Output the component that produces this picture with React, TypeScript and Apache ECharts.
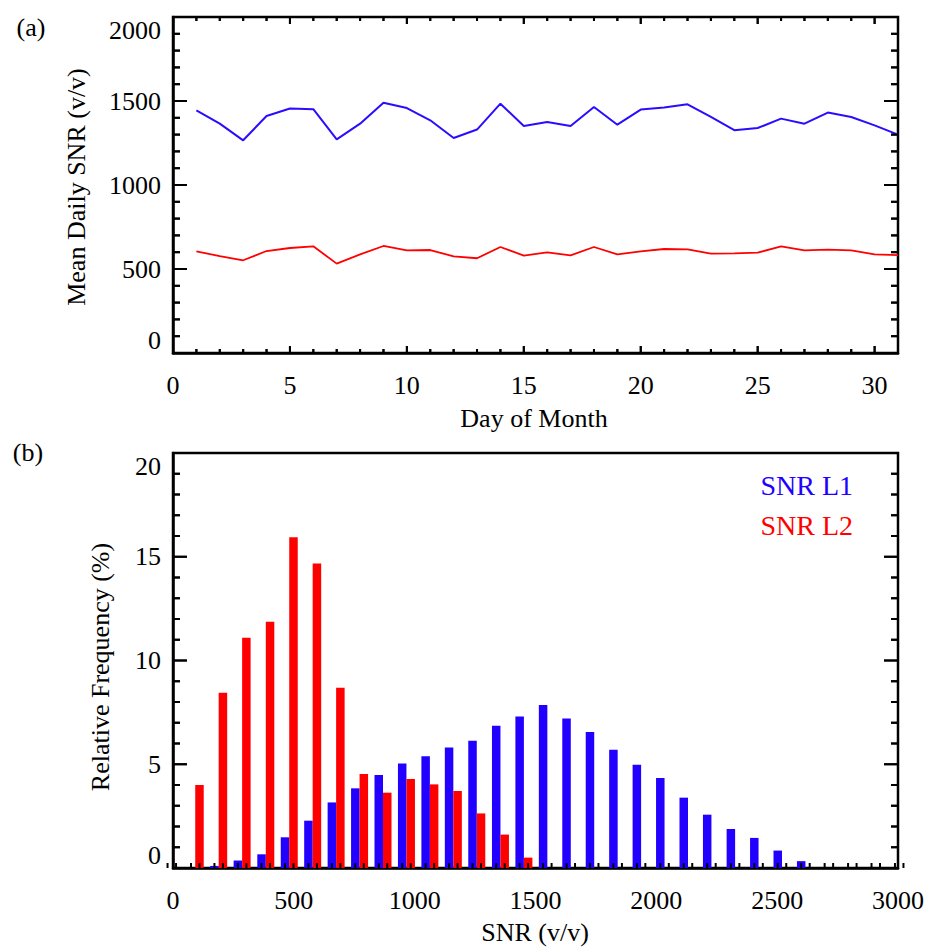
import React, { useEffect, useRef } from "react";
import * as echarts from "echarts";

// ---- Panel (a): mean daily SNR per day of month ----
const days = [1, 2, 3, 4, 5, 6, 7, 8, 9, 10, 11, 12, 13, 14, 15, 16, 17, 18, 19, 20, 21, 22, 23, 24, 25, 26, 27, 28, 29, 30, 31];
const snrL1 = [1444, 1365, 1266, 1411, 1455, 1451, 1272, 1365, 1490, 1458, 1385, 1280, 1330, 1484, 1351, 1375, 1351, 1464, 1359, 1449, 1461, 1480, 1405, 1326, 1339, 1395, 1365, 1431, 1405, 1355, 1300];
const snrL2 = [605, 577, 552, 607, 625, 635, 532, 587, 637, 611, 613, 575, 564, 631, 580, 599, 581, 631, 587, 605, 619, 617, 592, 593, 597, 635, 611, 615, 611, 587, 583];
// tick positions of panel (a) (major every 5 days / 500, minor every day / 100)
const dayTicks = [0, 1, 2, 3, 4, 5, 6, 7, 8, 9, 10, 11, 12, 13, 14, 15, 16, 17, 18, 19, 20, 21, 22, 23, 24, 25, 26, 27, 28, 29, 30];
const snrTicks = [0, 100, 200, 300, 400, 500, 600, 700, 800, 900, 1000, 1100, 1200, 1300, 1400, 1500, 1600, 1700, 1800, 1900, 2000];

// ---- Panel (b): histogram of SNR ----
const bins = [-5, 92, 189, 286, 384, 481, 578, 675, 772, 869, 966, 1063, 1160, 1257, 1355, 1452, 1549, 1646, 1743, 1840, 1937, 2034, 2131, 2228, 2326, 2423, 2520, 2617, 2714, 2811, 2908, 3005];
const freqL1 = [0, 0, 0.1, 0.36, 0.66, 1.48, 2.28, 3.16, 3.84, 4.48, 5.04, 5.38, 5.81, 6.13, 6.85, 7.3, 7.85, 7.2, 6.56, 5.7, 4.98, 4.34, 3.39, 2.57, 1.88, 1.45, 0.84, 0.33, 0, 0, 0, 0];
const freqL2 = [0, 4.0, 8.45, 11.1, 11.87, 15.94, 14.67, 8.69, 4.53, 3.63, 4.29, 4.03, 3.71, 2.63, 1.61, 0.5, 0, 0, 0, 0, 0, 0, 0, 0, 0, 0, 0, 0, 0, 0, 0, 0];
const freqTicks = [0, 1, 2, 3, 4, 5, 6, 7, 8, 9, 10, 11, 12, 13, 14, 15, 16, 17, 18, 19, 20];

const FONT = "Liberation Serif";
const BLUE_LINE = "#2a0dff";
const BLUE_BAR = "#2200ff";
const RED = "#ff0000";
const BAR_W = 8.5;

const labelStyle = { fontFamily: FONT, fontSize: 26, color: "#000" };
const axisLine = { show: true, lineStyle: { color: "#000", width: 2.5 } };

function yAxisCfg(gridIndex: number, max: number, interval: number) {
  return {
    type: "value",
    gridIndex,
    position: "left",
    min: 0,
    max,
    interval,
    axisLine,
    splitLine: { show: false },
    axisTick: { show: false },
    minorTick: { show: false },
    axisLabel: {
      margin: 12,
      ...labelStyle,
      formatter: (v: number) => String(v),
      verticalAlignMinLabel: "bottom",
      verticalAlignMaxLabel: "top",
    },
  };
}

// inward tick marks drawn as small rectangles anchored on the frame
const hTick = (x: number, y: number, len: number, dir: number) => ({
  value: [x, y],
  symbolSize: [len, 2],
  symbolOffset: [(dir * len) / 2, 0],
});
const vTick = (x: number, y: number, len: number, dir: number) => ({
  value: [x, y],
  symbolSize: [2, len],
  symbolOffset: [0, (dir * len) / 2],
});

const tickSeries = (name: string, xAxisIndex: number, yAxisIndex: number, data: any[]) => ({
  name,
  type: "scatter",
  xAxisIndex,
  yAxisIndex,
  symbol: "rect",
  silent: true,
  clip: false,
  z: 10,
  itemStyle: { color: "#000", opacity: 1 },
  emphasis: { disabled: true },
  data,
});

const textEls: any[] = [
  { type: "text", x: 31, y: 27, style: { text: "(a)", fontFamily: FONT, fontSize: 26, fill: "#000", align: "center", verticalAlign: "middle" } },
  { type: "text", x: 28, y: 452, style: { text: "(b)", fontFamily: FONT, fontSize: 26, fill: "#000", align: "center", verticalAlign: "middle" } },
  { type: "text", x: 76, y: 187, rotation: Math.PI / 2, style: { text: "Mean Daily SNR (v/v)", fontFamily: FONT, fontSize: 26, fill: "#000", align: "center", verticalAlign: "middle" } },
  { type: "text", x: 534, y: 418, style: { text: "Day of Month", fontFamily: FONT, fontSize: 26, fill: "#000", align: "center", verticalAlign: "middle" } },
  { type: "text", x: 100, y: 667, rotation: Math.PI / 2, style: { text: "Relative Frequency (%)", fontFamily: FONT, fontSize: 26, fill: "#000", align: "center", verticalAlign: "middle" } },
  { type: "text", x: 535, y: 932, style: { text: "SNR (v/v)", fontFamily: FONT, fontSize: 26, fill: "#000", align: "center", verticalAlign: "middle" } },
  { type: "text", x: 853, y: 485, style: { text: "SNR L1", fontFamily: FONT, fontSize: 28, fill: BLUE_BAR, align: "right", verticalAlign: "middle" } },
  { type: "text", x: 853, y: 525, style: { text: "SNR L2", fontFamily: FONT, fontSize: 28, fill: RED, align: "right", verticalAlign: "middle" } },
];

export default function App() {
  const ref = useRef<HTMLDivElement>(null);
  useEffect(() => {
    if (!ref.current) return;
    const chart = echarts.init(ref.current, undefined, { renderer: "svg" });

    const ticksA = [
      ...snrTicks.flatMap((v) => {
        const len = v % 500 === 0 ? 14 : 7;
        return [hTick(0, v, len, 1), hTick(31, v, len, -1)];
      }),
      ...dayTicks.flatMap((d) => {
        const len = d % 5 === 0 ? 7 : 4;
        return [vTick(d, 0, len, -1), vTick(d, 2000, len, 1)];
      }),
    ];
    const ticksB = freqTicks.flatMap((v) => {
      const len = v % 5 === 0 ? 14 : 7;
      return [hTick(0, v, len, 1), hTick(3000, v, len, -1)];
    });

    const option: any = {
      animation: false,
      backgroundColor: "#fff",
      grid: [
        { left: 173, top: 17, width: 725, height: 336, show: true, borderColor: "#000", borderWidth: 2.5, backgroundColor: "transparent" },
        { left: 173, top: 453, width: 725, height: 415, show: true, borderColor: "#000", borderWidth: 2.5, backgroundColor: "transparent" },
      ],
      xAxis: [
        {
          type: "value",
          gridIndex: 0,
          position: "bottom",
          min: 0,
          max: 31,
          interval: 5,
          axisLine,
          splitLine: { show: false },
          axisTick: { show: false },
          axisLabel: {
            margin: 19,
            ...labelStyle,
            formatter: (v: number) => (v % 5 === 0 ? String(v) : ""),
          },
        },
        {
          type: "value",
          gridIndex: 1,
          position: "bottom",
          min: 0,
          max: 3000,
          interval: 500,
          axisLine,
          splitLine: { show: false },
          axisTick: { show: false },
          axisLabel: { margin: 19, ...labelStyle, formatter: (v: number) => String(v) },
        },
      ],
      yAxis: [yAxisCfg(0, 2000, 500), yAxisCfg(1, 20, 5)],
      series: [
        {
          name: "SNR L1",
          type: "line",
          xAxisIndex: 0,
          yAxisIndex: 0,
          data: days.map((d, i) => [d, snrL1[i]]),
          symbol: "none",
          lineStyle: { color: BLUE_LINE, width: 2 },
          itemStyle: { color: BLUE_LINE },
        },
        {
          name: "SNR L2",
          type: "line",
          xAxisIndex: 0,
          yAxisIndex: 0,
          data: days.map((d, i) => [d, snrL2[i]]),
          symbol: "none",
          lineStyle: { color: RED, width: 1.8 },
          itemStyle: { color: RED },
        },
        {
          name: "SNR L1 hist",
          type: "bar",
          xAxisIndex: 1,
          yAxisIndex: 1,
          data: bins.map((b, i) => [b, freqL1[i]]),
          barWidth: BAR_W,
          barGap: "0%",
          itemStyle: { color: BLUE_BAR },
        },
        {
          name: "SNR L2 hist",
          type: "bar",
          xAxisIndex: 1,
          yAxisIndex: 1,
          data: bins.map((b, i) => [b, freqL2[i]]),
          barWidth: BAR_W,
          barGap: "0%",
          itemStyle: { color: RED },
        },
        tickSeries("frame ticks a", 0, 0, ticksA),
        tickSeries("frame ticks b", 1, 1, ticksB),
        // panel (b) ticks under each bar centre
        {
          name: "bar ticks",
          type: "custom",
          xAxisIndex: 1,
          yAxisIndex: 1,
          silent: true,
          clip: false,
          z: 10,
          data: bins.map((b) => [b, 0]),
          renderItem: (_params: any, api: any) => {
            const p = api.coord([api.value(0), 0]);
            const hw = BAR_W / 2;
            const mk = (x: number) => ({
              type: "line",
              shape: { x1: x, y1: p[1], x2: x, y2: p[1] - 5 },
              style: { stroke: "#000", lineWidth: 2 },
            });
            return { type: "group", children: [mk(p[0] - hw), mk(p[0] + hw)] };
          },
        },
      ],
      graphic: textEls,
    };
    chart.setOption(option);

    // Frame ticks also laid out through the axes' own scales (convertToPixel)
    const lines: any[] = [];
    const addLine = (a: number[], b: number[]) => {
      if ([...a, ...b].some((n) => !Number.isFinite(n))) return;
      lines.push({ type: "line", shape: { x1: a[0], y1: a[1], x2: b[0], y2: b[1] }, style: { stroke: "#000", lineWidth: 2 }, silent: true });
    };
    const toPx = (g: number, v: number[]) => chart.convertToPixel({ gridIndex: g } as any, v) as unknown as number[];
    snrTicks.forEach((v) => {
      const len = v % 500 === 0 ? 14 : 7;
      const l = toPx(0, [0, v]);
      const r = toPx(0, [31, v]);
      if (l && r) {
        addLine(l, [l[0] + len, l[1]]);
        addLine(r, [r[0] - len, r[1]]);
      }
    });
    dayTicks.forEach((d) => {
      const len = d % 5 === 0 ? 7 : 4;
      const b = toPx(0, [d, 0]);
      const t = toPx(0, [d, 2000]);
      if (b && t) {
        addLine(b, [b[0], b[1] - len]);
        addLine(t, [t[0], t[1] + len]);
      }
    });
    freqTicks.forEach((v) => {
      const len = v % 5 === 0 ? 14 : 7;
      const l = toPx(1, [0, v]);
      const r = toPx(1, [3000, v]);
      if (l && r) {
        addLine(l, [l[0] + len, l[1]]);
        addLine(r, [r[0] - len, r[1]]);
      }
    });
    chart.setOption({ graphic: [...textEls, { type: "group", z: 100, children: lines }] });

    return () => chart.dispose();
  }, []);
  return (
    <div
      ref={ref}
      style={{ position: "absolute", left: 0, top: 0, width: 929, height: 947, background: "#fff" }}
    />
  );
}
